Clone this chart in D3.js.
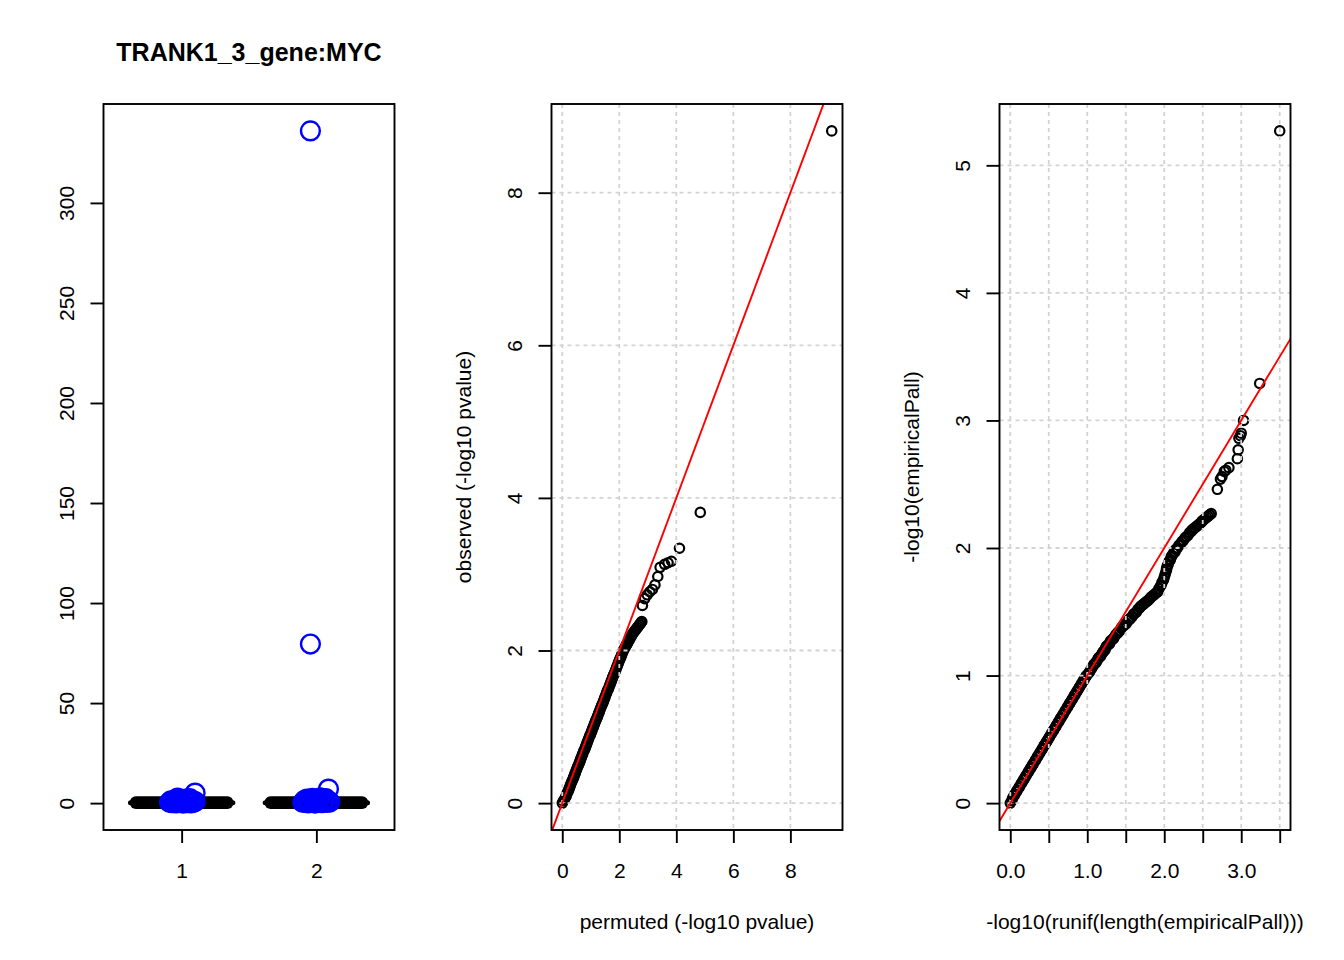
<!DOCTYPE html>
<html>
<head>
<meta charset="utf-8">
<script src="https://cdn.jsdelivr.net/npm/d3@7"></script>
<style>
  body { margin: 0; background: #fff; }
  svg { display: block; font-family: "Liberation Sans", Arial, Helvetica, sans-serif; }
</style>
</head>
<body>
<svg id="chart" width="1344" height="960"></svg>
<script>
const chartTitle = "TRANK1_3_gene:MYC";

// panel 1: boxplot with jittered points
const groups = [1, 2];
const boxQ1 = [0, 0];
const boxMedian = [0.2, 0.2];
const boxQ3 = [0.4, 0.4];
const strip1X = [0.91, 0.92, 0.93, 0.94, 0.95, 0.96, 0.97, 0.98, 0.99, 1.00, 1.01, 1.02, 1.03,
    1.04, 1.05, 1.06, 1.07, 1.08, 1.09, 1.10, 1.10, 0.95, 1.03, 0.97, 1.06];
const strip1Y = [0.4, 1.1, 0.2, 0.8, 1.4, 0.1, 0.6, 1.2, 0.3, 0.9, 0.0, 1.5, 0.5,
    0.2, 1.0, 0.7, 0.1, 1.3, 0.4, 5.0, 0.8, 0.5, 2.0, 2.5, 2.2];
const strip2X = [1.90, 1.91, 1.92, 1.93, 1.94, 1.95, 1.956, 1.956, 1.96, 1.97, 1.98, 1.99, 2.00,
    2.01, 2.02, 2.03, 2.04, 2.05, 2.06, 2.07, 2.08, 2.09, 2.09, 2.10, 1.93];
const strip2Y = [0.3, 1.2, 0.6, 2.0, 0.1, 1.5, 336, 79.5, 0.4, 2.4, 0.9, 0.0, 1.8,
    0.5, 1.1, 2.6, 0.2, 1.4, 0.7, 2.2, 0.3, 7.0, 1.0, 0.5, 0.8];
const boxYTicks = [0, 50, 100, 150, 200, 250, 300];

// panel 2: permuted vs observed
const permuted = [
    0.00, 0.04, 0.08, 0.12, 0.14, 0.17, 0.20, 0.23, 0.25, 0.28,
    0.30, 0.33, 0.36, 0.39, 0.41, 0.44, 0.46, 0.49, 0.51, 0.54,
    0.57, 0.60, 0.62, 0.65, 0.67, 0.70, 0.72, 0.75, 0.78, 0.81,
    0.83, 0.86, 0.88, 0.91, 0.93, 0.96, 0.99, 1.02, 1.04, 1.07,
    1.09, 1.12, 1.14, 1.17, 1.20, 1.23, 1.25, 1.28, 1.30, 1.33,
    1.35, 1.38, 1.41, 1.44, 1.46, 1.49, 1.51, 1.54, 1.56, 1.59,
    1.62, 1.65, 1.67, 1.70, 1.72, 1.75, 1.77, 1.80, 1.83, 1.86,
    1.88, 1.91, 1.93, 1.96, 1.98, 2.01, 2.04, 2.07, 2.09, 2.12,
    2.14, 2.17, 2.20, 2.23, 2.26, 2.29, 2.32, 2.35, 2.38, 2.41,
    2.44, 2.47, 2.51, 2.55, 2.59, 2.63, 2.67, 2.71, 2.75, 2.77,
    2.79, 2.81, 2.89, 2.98, 3.07, 3.16, 3.25, 3.35, 3.43, 3.59,
    3.71, 3.83, 4.11, 4.84, 9.45];
const observed = [
    0.00, 0.03, 0.05, 0.08, 0.10, 0.13, 0.15, 0.18, 0.20, 0.23,
    0.25, 0.28, 0.30, 0.33, 0.35, 0.38, 0.40, 0.43, 0.45, 0.48,
    0.50, 0.53, 0.55, 0.58, 0.60, 0.63, 0.65, 0.68, 0.70, 0.73,
    0.75, 0.78, 0.80, 0.83, 0.85, 0.88, 0.90, 0.93, 0.95, 0.98,
    1.00, 1.03, 1.05, 1.08, 1.10, 1.13, 1.15, 1.18, 1.20, 1.23,
    1.25, 1.28, 1.30, 1.33, 1.35, 1.38, 1.40, 1.43, 1.45, 1.48,
    1.50, 1.53, 1.55, 1.58, 1.60, 1.63, 1.65, 1.68, 1.70, 1.73,
    1.75, 1.78, 1.80, 1.83, 1.85, 1.88, 1.90, 1.93, 1.95, 1.98,
    2.00, 2.02, 2.04, 2.06, 2.08, 2.10, 2.12, 2.14, 2.16, 2.18,
    2.20, 2.22, 2.24, 2.26, 2.28, 2.30, 2.32, 2.34, 2.36, 2.37,
    2.38, 2.59, 2.68, 2.73, 2.77, 2.80, 2.86, 2.97, 3.09, 3.13,
    3.15, 3.17, 3.34, 3.81, 8.81];
const permTicks = [0, 2, 4, 6, 8];

// panel 3: expected uniform vs empirical
const runifExpected = [
    0.00, 0.02, 0.03, 0.05, 0.06, 0.08, 0.09, 0.11, 0.12, 0.14,
    0.15, 0.17, 0.18, 0.20, 0.21, 0.23, 0.24, 0.26, 0.27, 0.29,
    0.30, 0.32, 0.33, 0.35, 0.36, 0.38, 0.39, 0.41, 0.42, 0.44,
    0.45, 0.47, 0.48, 0.50, 0.51, 0.53, 0.54, 0.56, 0.57, 0.59,
    0.60, 0.62, 0.63, 0.65, 0.66, 0.68, 0.69, 0.71, 0.72, 0.74,
    0.75, 0.77, 0.78, 0.80, 0.81, 0.83, 0.84, 0.86, 0.87, 0.89,
    0.90, 0.92, 0.93, 0.95, 0.96, 0.98, 0.99,
    1.02, 1.03, 1.05, 1.06, 1.08, 1.09, 1.11, 1.12, 1.14, 1.15,
    1.17, 1.18, 1.20, 1.21, 1.23, 1.24, 1.25, 1.27, 1.29, 1.30,
    1.32, 1.34, 1.35, 1.37, 1.39, 1.40, 1.42, 1.44, 1.45, 1.47,
    1.49, 1.51, 1.53, 1.55, 1.56, 1.58, 1.60, 1.62, 1.64, 1.66,
    1.68, 1.69, 1.71, 1.73, 1.75, 1.77, 1.79, 1.81, 1.82, 1.84,
    1.86, 1.88, 1.90, 1.92, 1.93, 1.95, 1.96, 1.97, 1.99, 2.00,
    2.01, 2.02, 2.03, 2.03, 2.04, 2.05, 2.06, 2.07, 2.08, 2.09,
    2.10, 2.12, 2.14, 2.15, 2.17, 2.19, 2.21, 2.23, 2.25, 2.27,
    2.29, 2.31, 2.33, 2.35, 2.36, 2.38, 2.40, 2.42, 2.44, 2.46,
    2.48, 2.49, 2.51, 2.53, 2.55, 2.57, 2.59, 2.61,
    2.69, 2.73, 2.75, 2.78, 2.80, 2.84, 2.95, 2.96, 2.97, 2.99,
    3.00, 3.03, 3.24, 3.50];
const empiricalPall = [
    0.00, 0.02, 0.04, 0.06, 0.07, 0.09, 0.10, 0.12, 0.13, 0.15,
    0.16, 0.18, 0.19, 0.21, 0.22, 0.24, 0.25, 0.27, 0.28, 0.30,
    0.31, 0.33, 0.34, 0.36, 0.37, 0.39, 0.40, 0.42, 0.43, 0.45,
    0.46, 0.48, 0.49, 0.51, 0.52, 0.54, 0.55, 0.57, 0.58, 0.60,
    0.61, 0.63, 0.64, 0.66, 0.67, 0.69, 0.70, 0.72, 0.73, 0.75,
    0.76, 0.78, 0.79, 0.81, 0.82, 0.84, 0.85, 0.87, 0.88, 0.90,
    0.91, 0.93, 0.94, 0.96, 0.97, 0.99, 1.00,
    1.02, 1.03, 1.05, 1.06, 1.08, 1.09, 1.10, 1.11, 1.13, 1.14,
    1.15, 1.16, 1.18, 1.19, 1.20, 1.22, 1.23, 1.24, 1.25, 1.27,
    1.28, 1.29, 1.30, 1.32, 1.33, 1.34, 1.35, 1.37, 1.38, 1.39,
    1.40, 1.41, 1.43, 1.44, 1.45, 1.46, 1.48, 1.49, 1.50, 1.52,
    1.53, 1.54, 1.55, 1.56, 1.57, 1.58, 1.59, 1.60, 1.61, 1.62,
    1.63, 1.64, 1.65, 1.66, 1.68, 1.70, 1.71, 1.73, 1.75, 1.77,
    1.79, 1.81, 1.83, 1.84, 1.86, 1.87, 1.89, 1.90, 1.91, 1.93,
    1.94, 1.96, 1.97, 1.99, 2.00, 2.02, 2.03, 2.05, 2.06, 2.08,
    2.09, 2.10, 2.12, 2.13, 2.14, 2.15, 2.16, 2.17, 2.18, 2.19,
    2.20, 2.21, 2.22, 2.23, 2.24, 2.25, 2.26, 2.27,
    2.46, 2.54, 2.56, 2.60, 2.61, 2.63, 2.70, 2.77, 2.86, 2.88,
    2.90, 3.00, 3.29, 5.27];
const runifTicks = [0, 0.5, 1, 1.5, 2, 2.5, 3, 3.5];
const empiricalTicks = [0, 1, 2, 3, 4, 5];

// layout, in the spirit of R's par(mfrow = c(1, 3))
const plotTop = 104, plotBottom = 830, plotWidth = 291;
const panelLeft = [103.5, 551.5, 999.5];
const plotHeight = plotBottom - plotTop;
const fontSize = 21;

const svg = d3.select("#chart");

// R pads the data range by 4% on each side
function rLimits(values) {
    const [lo, hi] = d3.extent(values);
    const pad = (hi - lo) * 0.04;
    return [lo - pad, hi + pad];
}

function addAxes(g, x, y, xTicks, yTicks, xFormat) {
    const xAxis = g.append("g")
        .attr("transform", `translate(0,${plotHeight})`)
        .call(d3.axisBottom(x).tickValues(xTicks).tickSize(13).tickSizeOuter(0).tickFormat(xFormat));
    const yAxis = g.append("g")
        .call(d3.axisLeft(y).tickValues(yTicks).tickSize(13).tickSizeOuter(0).tickFormat(d3.format("d")));

    [xAxis, yAxis].forEach(a => {
        a.attr("font-size", fontSize).attr("font-family", null);
        a.select(".domain").remove();
        a.selectAll(".tick line").attr("stroke", "#000").attr("stroke-width", 1.9);
        a.selectAll(".tick text").attr("fill", "#000");
    });
    xAxis.selectAll(".tick text").attr("y", 47.5).attr("dy", null);
    yAxis.selectAll(".tick text")
        .attr("x", null).attr("dy", null)
        .attr("text-anchor", "middle")
        .attr("transform", "translate(-30,0) rotate(-90)");
}

function addBox(g) {
    g.append("rect")
        .attr("width", plotWidth).attr("height", plotHeight)
        .attr("fill", "none").attr("stroke", "#000").attr("stroke-width", 1.9);
}

// ---------- panel 1 ----------
function drawBoxPanel() {
    const g = svg.append("g").attr("transform", `translate(${panelLeft[0]},${plotTop})`);
    const x = d3.scaleLinear().domain([0.42, 2.58]).range([0, plotWidth]);
    const y = d3.scaleLinear().domain(rLimits(strip1Y.concat(strip2Y))).range([plotHeight, 0]);

    // collapsed boxes: heavy outline makes them a solid bar
    g.selectAll(".box").data(groups).join("rect")
        .attr("class", "box")
        .attr("x", (d) => x(d - 0.34))
        .attr("width", (d) => x(d + 0.34) - x(d - 0.34))
        .attr("y", (d, i) => y(boxQ3[i]))
        .attr("height", (d, i) => y(boxQ1[i]) - y(boxQ3[i]))
        .attr("fill", "#000").attr("stroke", "#000")
        .attr("stroke-width", 12).attr("stroke-linejoin", "round");
    g.selectAll(".median").data(groups).join("line")
        .attr("class", "median")
        .attr("x1", (d) => x(d - 0.38)).attr("x2", (d) => x(d + 0.38))
        .attr("y1", (d, i) => y(boxMedian[i])).attr("y2", (d, i) => y(boxMedian[i]))
        .attr("stroke", "#000").attr("stroke-width", 5).attr("stroke-linecap", "round");

    const strip = strip1X.map((v, i) => [v, strip1Y[i]])
        .concat(strip2X.map((v, i) => [v, strip2Y[i]]));
    g.selectAll(".pt").data(strip).join("circle")
        .attr("class", "pt")
        .attr("cx", (d) => x(d[0])).attr("cy", (d) => y(d[1]))
        .attr("r", 9.4)
        .attr("fill", "none").attr("stroke", "#0000FF").attr("stroke-width", 2.4);

    addAxes(g, x, y, groups, boxYTicks, d3.format("d"));
    addBox(g);

    svg.append("text")
        .attr("x", panelLeft[0] + plotWidth / 2).attr("y", 61)
        .attr("text-anchor", "middle")
        .attr("font-size", 25).attr("font-weight", "bold")
        .text(chartTitle);
}

// ---------- panels 2 and 3 ----------
class QQPanel {
    constructor(index) {
        this.index = index;
        this.g = svg.append("g").attr("transform", `translate(${panelLeft[index]},${plotTop})`);
    }

    update(xs, ys, xTicks, yTicks, xFormat, xLabel, yLabel) {
        const g = this.g;
        const x = d3.scaleLinear().domain(rLimits(xs)).range([0, plotWidth]);
        const y = d3.scaleLinear().domain(rLimits(ys)).range([plotHeight, 0]);

        const clipId = `clip${this.index}`;
        g.append("clipPath").attr("id", clipId)
            .append("rect").attr("width", plotWidth).attr("height", plotHeight);
        const inner = g.append("g").attr("clip-path", `url(#${clipId})`);

        inner.selectAll("circle").data(xs).join("circle")
            .attr("cx", (d) => x(d)).attr("cy", (d, i) => y(ys[i]))
            .attr("r", 4.7)
            .attr("fill", "none").attr("stroke", "#000").attr("stroke-width", 2.2);

        // grid() comes after the points in the original, so it sits on top
        inner.selectAll(".vgrid").data(xTicks).join("line")
            .attr("class", "vgrid")
            .attr("x1", (d) => x(d)).attr("x2", (d) => x(d))
            .attr("y1", 0).attr("y2", plotHeight);
        inner.selectAll(".hgrid").data(yTicks).join("line")
            .attr("class", "hgrid")
            .attr("x1", 0).attr("x2", plotWidth)
            .attr("y1", (d) => y(d)).attr("y2", (d) => y(d));
        inner.selectAll(".vgrid, .hgrid")
            .attr("stroke", "#D3D3D3").attr("stroke-width", 1.8).attr("stroke-dasharray", "4,4");

        // abline(0, 1)
        const lo = Math.min(x.domain()[0], y.domain()[0]);
        const hi = Math.max(x.domain()[1], y.domain()[1]);
        inner.append("line")
            .attr("x1", x(lo)).attr("y1", y(lo))
            .attr("x2", x(hi)).attr("y2", y(hi))
            .attr("stroke", "#FF0000").attr("stroke-width", 1.9);

        addAxes(g, x, y, xTicks, yTicks, xFormat);
        addBox(g);

        g.append("text")
            .attr("x", plotWidth / 2).attr("y", plotHeight + 99)
            .attr("text-anchor", "middle").attr("font-size", fontSize)
            .text(xLabel);
        g.append("text")
            .attr("transform", `translate(-81,${plotHeight / 2}) rotate(-90)`)
            .attr("text-anchor", "middle").attr("font-size", fontSize)
            .text(yLabel);
    }
}

drawBoxPanel();

new QQPanel(1).update(permuted, observed, permTicks, permTicks, d3.format("d"),
    "permuted (-log10 pvalue)", "observed (-log10 pvalue)");

new QQPanel(2).update(runifExpected, empiricalPall, runifTicks, empiricalTicks,
    (d) => (d % 1 === 0 ? d3.format(".1f")(d) : ""),
    "-log10(runif(length(empiricalPall)))", "-log10(empiricalPall)");
</script>
</body>
</html>
